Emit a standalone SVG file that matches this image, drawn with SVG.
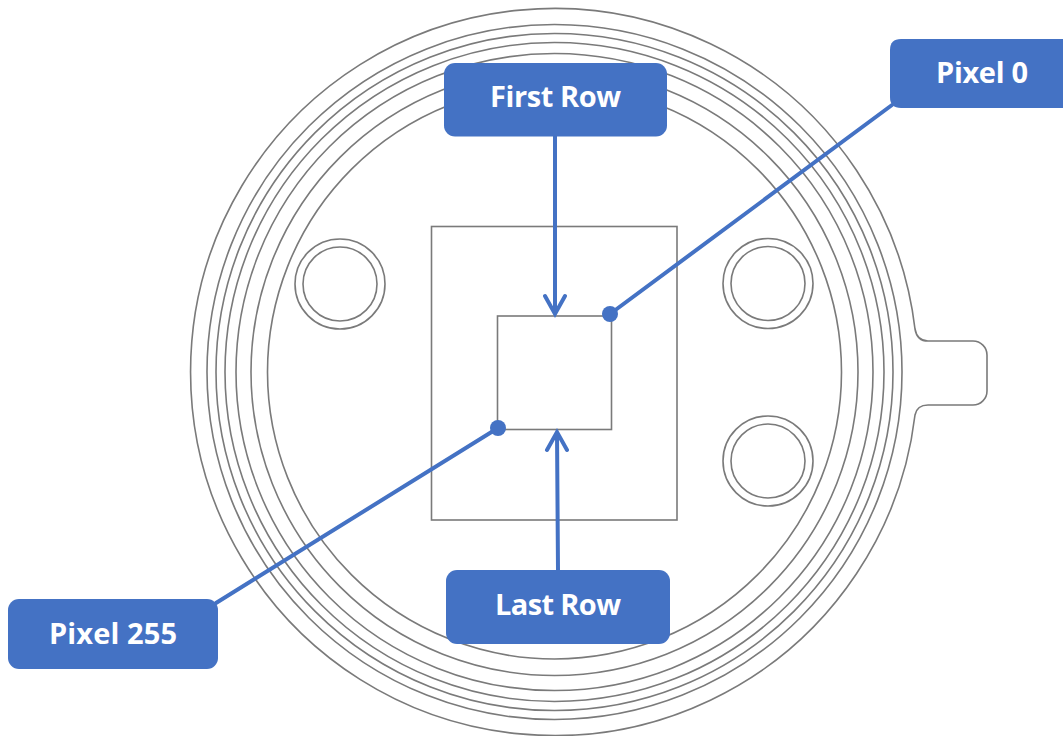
<svg xmlns="http://www.w3.org/2000/svg" width="1063" height="736" viewBox="0 0 1063 736">
<style>
.o{fill:none;stroke:#7a7a7a;stroke-width:1.6}
.c{fill:none;stroke:#4472c4;stroke-width:4;stroke-linecap:round;stroke-linejoin:miter}
.b{fill:#4472c4}
.t{fill:#fff;font-family:"Open Sans","Liberation Sans",sans-serif;font-weight:700;font-size:29px;text-anchor:middle}
</style>
<rect width="1063" height="736" fill="#fff"/>
<g id="housing">
<path class="o" d="M915 329A363.500 363.500 0 1 0 915 415Q917 405 928 405H973A14 14 0 0 0 987 391V355A14 14 0 0 0 973 341H928Q917 341 915 329Z"/>
<circle class="o" cx="554.5" cy="372" r="347.500"/>
<circle class="o" cx="554.5" cy="372" r="338.500"/>
<circle class="o" cx="554.5" cy="372" r="329.500"/>
<circle class="o" cx="554.5" cy="372" r="318.500"/>
<circle class="o" cx="554.5" cy="372" r="303.500"/>
<circle class="o" cx="554.5" cy="372" r="287"/>
<circle class="o" cx="340" cy="284" r="45"/>
<circle class="o" cx="340" cy="284" r="37"/>
<circle class="o" cx="768" cy="283.500" r="45"/>
<circle class="o" cx="768" cy="283.500" r="37"/>
<circle class="o" cx="768" cy="461" r="45"/>
<circle class="o" cx="768" cy="461" r="37"/>
<rect class="o" x="431.500" y="226.500" width="245.500" height="293.500"/>
<rect class="o" x="497.500" y="316" width="114" height="113.500"/>
</g>
<g id="connectors">
<path class="c" d="M555 136V314M545 296L555 314L565 296"/>
<path class="c" d="M558 570L557 432M547 450L557 432L567 450"/>
<path class="c" d="M892 105L610 314"/>
<path class="c" d="M216 603L498 428"/>
<circle class="b" cx="610" cy="314" r="8"/>
<circle class="b" cx="498" cy="428" r="8"/>
</g>
<g id="first-row"><rect class="b" x="444" y="63" width="223" height="73.500" rx="11"/><text class="t" x="555.500" y="107" textLength="131">First Row</text></g>
<g id="pixel-0"><path class="b" d="M901 39H1063V108H901Q890 108 890 97V50Q890 39 901 39Z"/><text class="t" x="982" y="82.500" textLength="92">Pixel 0</text></g>
<g id="pixel-255"><rect class="b" x="8" y="599" width="210" height="70" rx="11"/><text class="t" x="113" y="644" textLength="128">Pixel 255</text></g>
<g id="last-row"><rect class="b" x="446" y="570" width="224" height="74" rx="11"/><text class="t" x="558" y="615" textLength="126">Last Row</text></g>
</svg>
